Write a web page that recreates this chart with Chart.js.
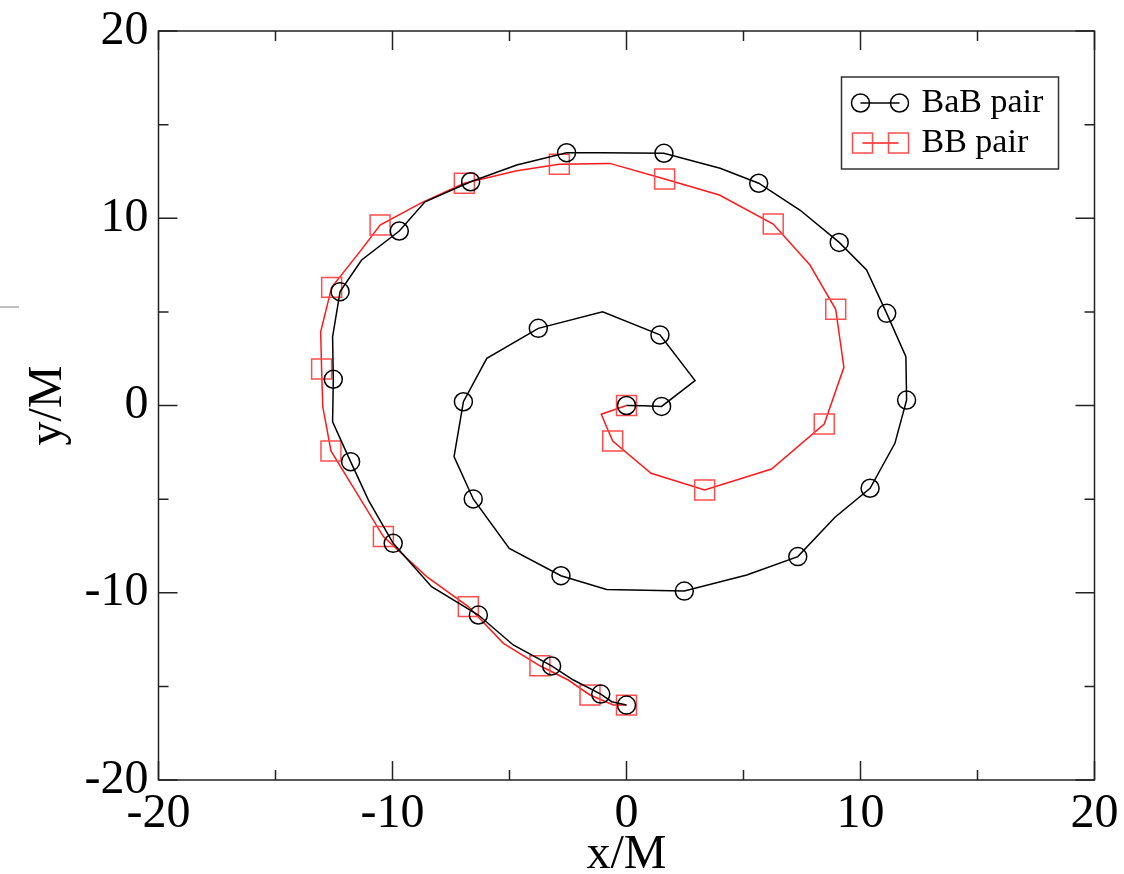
<!DOCTYPE html>
<html>
<head>
<meta charset="utf-8">
<title>Orbit tracks</title>
<script src="https://cdn.jsdelivr.net/npm/chart.js"></script>
<style>
  html, body { margin: 0; padding: 0; background: #fff; }
  #wrap { width: 1124px; height: 874px; }
</style>
</head>
<body>
<div id="wrap"><canvas id="orbit" width="1124" height="874"></canvas></div>
<script>
// puncture tracks in the orbital plane, every vertex of the polyline;
// symbols sit on every other vertex
const babX = [0.0, 0.75, 1.5, 2.93, 1.43, -1.02, -3.77, -5.97, -6.97, -7.37,
    -6.55, -5.01, -2.8, -0.85, 2.47, 5.14, 7.32, 8.91, 10.41, 11.47,
    11.97, 11.94, 11.12, 10.26, 9.09, 7.41, 5.65, 4.0, 1.6, -1.13,
    -2.56, -4.69, -6.66, -8.61, -9.71, -11.32, -12.24, -12.56, -12.53, -12.56,
    -11.79, -11.03, -9.97, -8.33, -6.33, -4.84, -3.2, -2.27, -1.1, -0.63,
    0.0];
const babY = [0.0, -0.02, -0.05, 1.33, 3.77, 5.01, 4.12, 2.52, 0.2, -2.73,
    -4.99, -7.63, -9.09, -9.82, -9.91, -9.05, -8.07, -5.97, -4.42, -2.02,
    0.29, 2.61, 4.92, 7.24, 8.71, 10.44, 11.87, 12.67, 13.47, 13.5,
    13.5, 12.84, 11.95, 10.88, 9.32, 7.77, 6.08, 3.67, 1.4, -0.87,
    -3.0, -5.05, -7.36, -9.68, -11.19, -12.79, -13.91, -14.66, -15.41, -15.82,
    -16.0];

const bbX = [0.0, -1.08, -0.59, 1.05, 3.34, 6.2, 8.45, 9.29, 8.94, 7.84,
    6.27, 3.97, 1.63, -0.71, -2.87, -4.69, -6.93, -8.75, -10.53, -11.36,
    -12.6, -13.07, -13.03, -12.98, -12.63, -11.5, -10.39, -8.54, -6.76, -5.26,
    -3.7, -2.49, -1.56, -0.56, 0.0];
const bbY = [0.0, -0.47, -1.9, -3.62, -4.51, -3.39, -0.99, 2.04, 5.14, 7.5,
    9.69, 11.24, 12.1, 12.93, 12.88, 12.54, 11.87, 10.83, 9.64, 8.27,
    6.31, 3.94, 1.95, -0.06, -2.43, -4.73, -7.0, -9.14, -10.74, -12.7,
    -13.9, -14.66, -15.46, -15.99, -16.0];

const seriesNames = ['BaB pair', 'BB pair'];
const axisTicks = [-20, -10, 0, 10, 20];

const FONT = '"Liberation Serif", "Times New Roman", serif';
const BLACK = '#000000';
const RED = '#ff1a1a';
const RED_SYMBOL = '#ff4d4d';

function toPoints(xs, ys) {
    return xs.map((x, i) => ({x: x, y: ys[i]}));
}

// symbol on every second vertex
function everyOther(radius) {
    return ctx => (ctx.dataIndex % 2 === 0 ? radius : 0);
}

// inward ticks on all four sides and the closed frame
const framePlugin = {
    id: 'frame',
    afterDatasetsDraw(chart) {
        const {ctx, chartArea: a, scales} = chart;
        ctx.save();
        ctx.strokeStyle = '#222';
        ctx.lineWidth = 1.5;
        ctx.strokeRect(a.left, a.top, a.right - a.left, a.bottom - a.top);

        for (let v = -20; v <= 20; v += 5) {
            const len = v % 10 === 0 ? 19 : 10;
            const px = scales.x.getPixelForValue(v);
            const py = scales.y.getPixelForValue(v);
            ctx.beginPath();
            ctx.moveTo(px, a.bottom); ctx.lineTo(px, a.bottom - len);
            ctx.moveTo(px, a.top); ctx.lineTo(px, a.top + len);
            ctx.moveTo(a.left, py); ctx.lineTo(a.left + len, py);
            ctx.moveTo(a.right, py); ctx.lineTo(a.right - len, py);
            ctx.stroke();
        }

        // stray gray dash at the left margin
        ctx.strokeStyle = '#aaa';
        ctx.beginPath();
        ctx.moveTo(0, 307); ctx.lineTo(19, 307);
        ctx.stroke();
        ctx.restore();
    }
};

// boxed legend with a line between two symbols
const legendBoxPlugin = {
    id: 'legendBox',
    afterDraw(chart) {
        const {ctx, chartArea: a} = chart;
        const left = a.right - 253, top = a.top + 46;
        ctx.save();
        ctx.fillStyle = '#fff';
        ctx.fillRect(left, top, 217, 92);
        ctx.strokeStyle = '#333';
        ctx.lineWidth = 1.5;
        ctx.strokeRect(left, top, 217, 92);

        ctx.font = '34px ' + FONT;
        ctx.textBaseline = 'middle';
        ctx.fillStyle = '#000';

        // BaB row
        let y = top + 26;
        ctx.strokeStyle = BLACK;
        ctx.beginPath();
        ctx.moveTo(left + 19, y); ctx.lineTo(left + 58, y);
        ctx.stroke();
        [left + 19, left + 58].forEach(cx => {
            ctx.beginPath();
            ctx.arc(cx, y, 9, 0, Math.PI * 2);
            ctx.stroke();
        });
        ctx.fillText(seriesNames[0], left + 80, y);

        // BB row
        y = top + 66;
        ctx.strokeStyle = RED;
        ctx.beginPath();
        ctx.moveTo(left + 21, y); ctx.lineTo(left + 57, y);
        ctx.stroke();
        ctx.strokeStyle = RED_SYMBOL;
        [left + 21, left + 57].forEach(cx => {
            ctx.strokeRect(cx - 10, y - 10, 20, 20);
        });
        ctx.fillText(seriesNames[1], left + 80, y);
        ctx.restore();
    }
};

new Chart(document.getElementById('orbit'), {
    type: 'scatter',
    data: {
        datasets: [
            {
                label: seriesNames[0],
                data: toPoints(babX, babY),
                showLine: true,
                tension: 0,
                borderColor: BLACK,
                borderWidth: 1.5,
                pointStyle: 'circle',
                pointRadius: everyOther(9),
                pointBorderColor: BLACK,
                pointBackgroundColor: 'rgba(0,0,0,0)',
                pointBorderWidth: 1.5
            },
            {
                label: seriesNames[1],
                data: toPoints(bbX, bbY),
                showLine: true,
                tension: 0,
                borderColor: RED,
                borderWidth: 1.5,
                pointStyle: 'rect',
                pointRadius: everyOther(14.1),
                pointBorderColor: RED_SYMBOL,
                pointBackgroundColor: 'rgba(0,0,0,0)',
                pointBorderWidth: 1.5
            }
        ]
    },
    options: {
        responsive: false,
        animation: false,
        layout: {
            padding: {left: 0, right: 29.5, top: 31, bottom: 0}
        },
        plugins: {
            legend: {display: false},
            tooltip: {enabled: false}
        },
        scales: {
            x: {
                type: 'linear',
                min: -20,
                max: 20,
                afterBuildTicks: scale => {
                    scale.ticks = axisTicks.map(v => ({value: v}));
                },
                afterFit: scale => {
                    scale.height = 94;
                    scale.paddingLeft = 0;
                    scale.paddingRight = 0;
                },
                grid: {display: false, drawTicks: false},
                border: {display: false},
                ticks: {
                    color: '#000',
                    padding: 6,
                    maxRotation: 0,
                    font: {family: FONT, size: 48}
                },
                title: {
                    display: true,
                    text: 'x/M',
                    color: '#000',
                    padding: {top: 0, bottom: -10},
                    font: {family: FONT, size: 48}
                }
            },
            y: {
                type: 'linear',
                min: -20,
                max: 20,
                afterBuildTicks: scale => {
                    scale.ticks = axisTicks.map(v => ({value: v}));
                },
                afterFit: scale => {
                    scale.width = 158.5;
                    scale.paddingTop = 0;
                    scale.paddingBottom = 0;
                },
                grid: {display: false, drawTicks: false},
                border: {display: false},
                ticks: {
                    color: '#000',
                    padding: 10,
                    font: {family: FONT, size: 48}
                },
                title: {
                    display: true,
                    text: 'y/M',
                    color: '#000',
                    padding: {top: 20, bottom: 0},
                    font: {family: FONT, size: 48}
                }
            }
        }
    },
    plugins: [framePlugin, legendBoxPlugin]
});
</script>
</body>
</html>
